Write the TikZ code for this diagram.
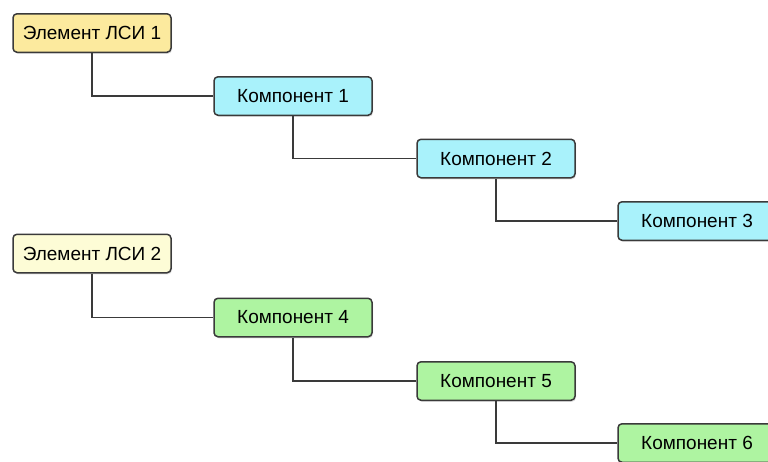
\documentclass[tikz,border=0pt]{standalone}
\usepackage{fontspec}
\setmainfont{Liberation Sans}
\usetikzlibrary{shadows}
\definecolor{lsiA}{HTML}{FCEA9E}
\definecolor{lsiB}{HTML}{FDFCD6}
\definecolor{compC}{HTML}{A9F2FB}
\definecolor{compG}{HTML}{AEF4A1}
\definecolor{edge}{HTML}{3A3A3A}
\begin{document}
\begin{tikzpicture}[x=1pt,y=-1pt,
  box/.style={draw=edge, line width=1.5pt, rounded corners=4pt,
    minimum width=158pt, minimum height=38.5pt, inner sep=0pt,
    font=\fontsize{19}{22}\selectfont,
    drop shadow={shadow xshift=1pt, shadow yshift=-1.5pt, opacity=0.25}},
  link/.style={draw=edge, line width=1.5pt}]
\useasboundingbox (0,0) rectangle (768,461);
\node[box, fill=lsiA] (l1) at (92,33) {Элемент ЛСИ 1};
\node[box, fill=compC] (k1) at (293,96) {Компонент 1};
\node[box, fill=compC] (k2) at (496,158.5) {Компонент 2};
\node[box, fill=compC] (k3) at (697,221) {Компонент 3};
\node[box, fill=lsiB] (l2) at (92,253.5) {Элемент ЛСИ 2};
\node[box, fill=compG] (k4) at (293,317.5) {Компонент 4};
\node[box, fill=compG] (k5) at (496,381) {Компонент 5};
\node[box, fill=compG] (k6) at (697,443) {Компонент 6};
\draw[link] (l1.south) |- (k1.west);
\draw[link] (k1.south) |- (k2.west);
\draw[link] (k2.south) |- (k3.west);
\draw[link] (l2.south) |- (k4.west);
\draw[link] (k4.south) |- (k5.west);
\draw[link] (k5.south) |- (k6.west);
\end{tikzpicture}
\end{document}
